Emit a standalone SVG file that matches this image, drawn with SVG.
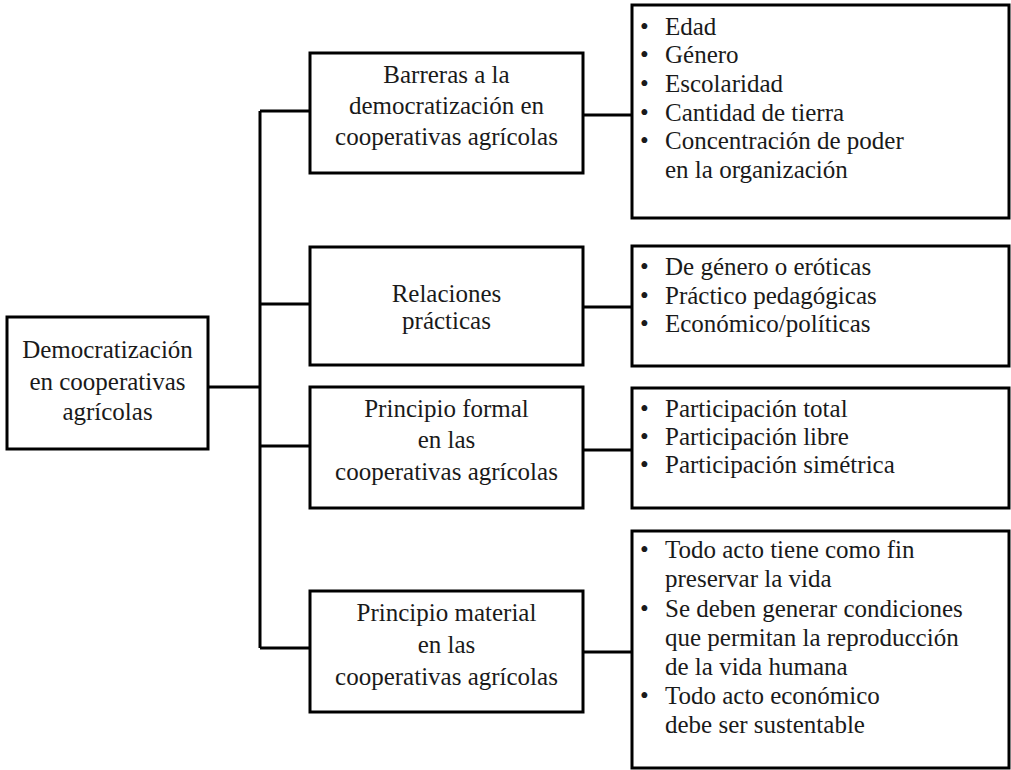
<svg xmlns="http://www.w3.org/2000/svg" width="1011" height="770" viewBox="0 0 1011 770">
<style>
.box{fill:#fff;stroke:#000;stroke-width:3}
.ln{fill:none;stroke:#000;stroke-width:3}
text{font-family:"Liberation Serif","Times New Roman",serif;font-size:25px;fill:#1a1a1a}
.c{text-anchor:middle}
</style>
<rect width="1011" height="770" fill="#fff"/>
<g id="connectors">
<path class="ln" d="M208,387H260M260,111V648M260,111H310M260,304H310M260,446H310M260,648H310M583,115H632M583,307H632M583,450H632M583,652H632"/>
</g>
<g id="root">
<rect class="box" x="7" y="317" width="201" height="132"/>
<text class="c" x="107.5" y="358">Democratización</text>
<text class="c" x="107.5" y="390">en cooperativas</text>
<text class="c" x="107.5" y="420">agrícolas</text>
</g>
<g id="barreras">
<rect class="box" x="310" y="53" width="273" height="120"/>
<text class="c" x="446.5" y="83">Barreras a la</text>
<text class="c" x="446.5" y="114">democratización en</text>
<text class="c" x="446.5" y="145">cooperativas agrícolas</text>
</g>
<g id="relaciones">
<rect class="box" x="310" y="247" width="273" height="118"/>
<text class="c" x="446.5" y="302">Relaciones</text>
<text class="c" x="446.5" y="329">prácticas</text>
</g>
<g id="formal">
<rect class="box" x="310" y="387" width="273" height="121"/>
<text class="c" x="446.5" y="417">Principio formal</text>
<text class="c" x="446.5" y="448">en las</text>
<text class="c" x="446.5" y="480">cooperativas agrícolas</text>
</g>
<g id="material">
<rect class="box" x="310" y="591" width="273" height="121"/>
<text class="c" x="446.5" y="621">Principio material</text>
<text class="c" x="446.5" y="653">en las</text>
<text class="c" x="446.5" y="685">cooperativas agrícolas</text>
</g>
<g id="lista-barreras">
<rect class="box" x="632" y="5" width="377" height="213"/>
<text x="640" y="35">•</text><text x="665" y="35">Edad</text>
<text x="640" y="63">•</text><text x="665" y="63">Género</text>
<text x="640" y="92">•</text><text x="665" y="92">Escolaridad</text>
<text x="640" y="121">•</text><text x="665" y="121">Cantidad de tierra</text>
<text x="640" y="149">•</text><text x="665" y="149">Concentración de poder</text>
<text x="665" y="178">en la organización</text>
</g>
<g id="lista-relaciones">
<rect class="box" x="632" y="246" width="377" height="120"/>
<text x="640" y="275">•</text><text x="665" y="275">De género o eróticas</text>
<text x="640" y="304">•</text><text x="665" y="304">Práctico pedagógicas</text>
<text x="640" y="332">•</text><text x="665" y="332">Económico/políticas</text>
</g>
<g id="lista-formal">
<rect class="box" x="632" y="388" width="377" height="120"/>
<text x="640" y="417">•</text><text x="665" y="417">Participación total</text>
<text x="640" y="445">•</text><text x="665" y="445">Participación libre</text>
<text x="640" y="473">•</text><text x="665" y="473">Participación simétrica</text>
</g>
<g id="lista-material">
<rect class="box" x="632" y="531" width="377" height="237"/>
<text x="640" y="558">•</text><text x="665" y="558">Todo acto tiene como fin</text>
<text x="665" y="587">preservar la vida</text>
<text x="640" y="617">•</text><text x="665" y="617">Se deben generar condiciones</text>
<text x="665" y="646">que permitan la reproducción</text>
<text x="665" y="675">de la vida humana</text>
<text x="640" y="704">•</text><text x="665" y="704">Todo acto económico</text>
<text x="665" y="733">debe ser sustentable</text>
</g>
</svg>
